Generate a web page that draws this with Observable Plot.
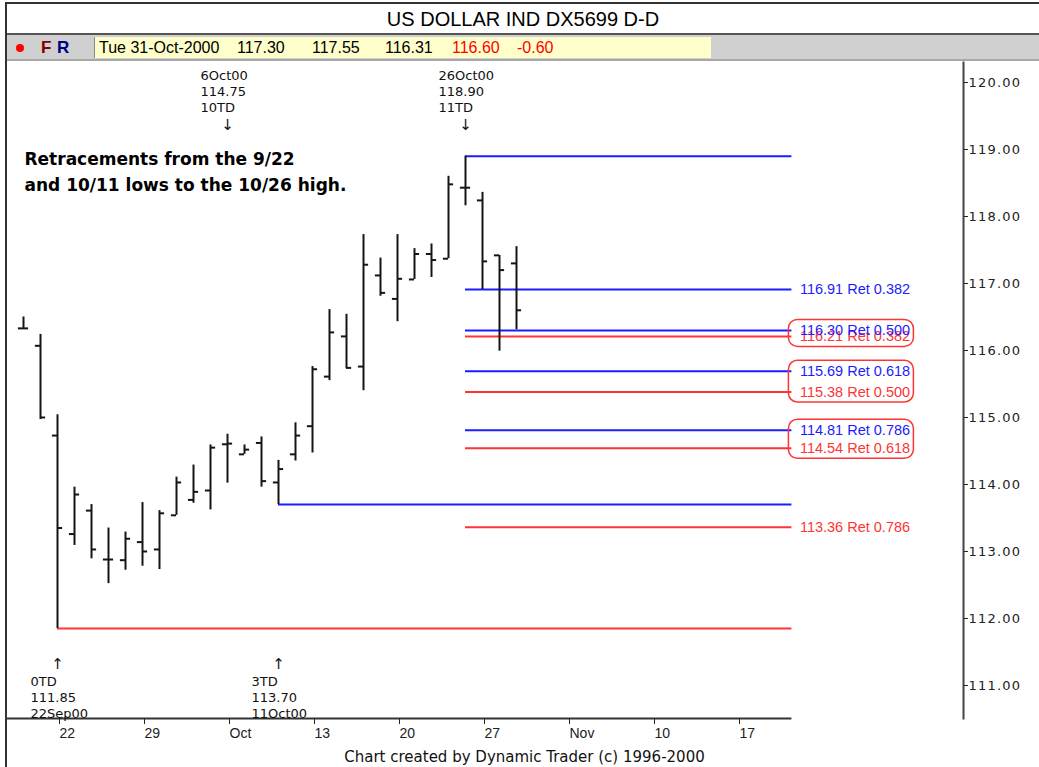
<!DOCTYPE html>
<html>
<head>
<meta charset="utf-8">
<script src="https://cdn.jsdelivr.net/npm/d3@7"></script>
<script src="https://cdn.jsdelivr.net/npm/@observablehq/plot@0.6"></script>
<style>
html,body{margin:0;padding:0;background:#fff;}
body{width:1039px;height:767px;position:relative;overflow:hidden;font-family:"Liberation Sans",Arial,sans-serif;}
#leftBorder{position:absolute;left:5px;top:2px;width:2px;height:765px;background:#333;}
#topBorder{position:absolute;left:5px;top:2px;width:1034px;height:2px;background:#333;}
#title{position:absolute;left:7px;top:4px;width:1032px;height:29px;line-height:31px;text-align:center;font-size:20px;color:#000;}
#titleLine{position:absolute;left:7px;top:33px;width:1032px;height:2px;background:#555;}
#info{position:absolute;left:7px;top:35px;width:1032px;height:24px;background:#d0d0d0;}
#infoLine{position:absolute;left:7px;top:59px;width:1032px;height:2px;background:#a8a8a8;}
#dot{position:absolute;left:16px;top:44px;width:8px;height:8px;border-radius:50%;background:#f00;}
.fr{position:absolute;top:37px;font:bold 17px "Liberation Sans",Arial,sans-serif;line-height:21px;}
#yellow{position:absolute;left:94px;top:37px;width:616px;height:21px;background:#ffffcc;border-left:1px solid #888;}
.it{position:absolute;top:37px;font-size:16px;line-height:21px;white-space:pre;}
#chart{position:absolute;left:0;top:62px;}
#caption{position:absolute;left:10px;top:746px;width:1029px;text-align:center;font:15px "DejaVu Sans",sans-serif;line-height:22px;color:#111;}
#chart g[aria-label="y-axis tick label"] text{letter-spacing:1.2px;}
</style>
</head>
<body>
<div id="topBorder"></div>
<div id="title"></div>
<div id="titleLine"></div>
<div id="info"></div>
<div id="infoLine"></div>
<div id="dot"></div>
<div class="fr" id="F" style="left:41px;color:#800000">F</div>
<div class="fr" id="R" style="left:57px;color:#000080">R</div>
<div id="yellow"></div>
<div id="infoText"></div>
<div id="chart"></div>
<div id="caption"></div>
<div id="leftBorder"></div>
<script>
// ---------- data ----------
const chartTitle = "US DOLLAR IND DX5699 D-D";
const captionText = "Chart created by Dynamic Trader (c) 1996-2000";
const lastDayText = "Tue 31-Oct-2000";

const dateLabels = ["20Sep00","21Sep00","22Sep00","25Sep00","26Sep00","27Sep00","28Sep00","29Sep00",
  "2Oct00","3Oct00","4Oct00","5Oct00","6Oct00","9Oct00","10Oct00","11Oct00","12Oct00","13Oct00",
  "16Oct00","17Oct00","18Oct00","19Oct00","20Oct00","23Oct00","24Oct00","25Oct00","26Oct00","27Oct00",
  "30Oct00","31Oct00"];
const opens  = [116.33,116.07,114.73,113.26,113.61,112.88,112.87,113.14,113.03,113.54,113.77,113.91,114.60,114.45,114.62,114.03,114.45,114.87,115.61,116.21,115.76,117.12,116.77,117.06,117.44,117.37,118.43,118.24,117.42,117.30];
const highs  = [116.50,116.24,115.04,113.96,113.70,113.35,113.29,113.73,113.61,114.11,114.29,114.59,114.75,114.59,114.71,114.36,114.92,115.76,116.61,116.54,117.73,117.38,117.73,117.52,117.59,118.60,118.90,118.36,117.42,117.55];
const lows   = [116.33,114.97,111.85,113.09,112.89,112.52,112.72,112.78,112.73,113.54,113.72,113.62,114.02,114.45,113.96,113.70,114.35,114.47,115.55,115.73,115.40,116.81,116.43,117.06,117.09,117.37,118.16,116.91,115.99,116.31];
const closes = [116.33,115.00,113.35,113.85,113.03,112.88,113.19,113.00,113.57,114.03,113.89,114.55,114.61,114.52,114.05,114.23,114.73,115.72,116.27,115.74,117.28,116.86,117.07,117.44,117.35,118.48,118.43,117.33,117.20,116.60];

const xTickIndex  = [2,7,12,17,22,27,32,37,42];
const xTickLabels = ["22","29","Oct","13","20","27","Nov","10","17"];
const yTicks = [111,112,113,114,115,116,117,118,119,120];

const pivotIndex = [2,12,15,26];
const pivotDate  = ["22Sep00","6Oct00","11Oct00","26Oct00"];
const pivotPrice = [111.85,114.75,113.70,118.90];
const pivotTD    = [0,10,3,11];
const pivotKind  = ["low","high","low","high"];

const retRatios  = [0.382,0.500,0.618,0.786];
const blueLevels = [116.91,116.30,115.69,114.81];   // from 10/11 low to 10/26 high
const redLevels  = [116.21,115.38,114.54,113.36];   // from 9/22 low to 10/26 high
const clusterBoxes = [[116.30,116.21],[115.69,115.38],[114.81,114.54]];

const noteText = "Retracements from the 9/22\nand 10/11 lows to the 10/26 high.";

// ---------- header / caption ----------
document.getElementById("title").textContent = chartTitle;
document.getElementById("caption").textContent = captionText;
const n = closes.length;
const chg = closes[n-1] - closes[n-2];
const infoItems = [
  {t: lastDayText, x: 99, c: "#000"},
  {t: opens[n-1].toFixed(2), x: 237, c: "#000"},
  {t: highs[n-1].toFixed(2), x: 312, c: "#000"},
  {t: lows[n-1].toFixed(2), x: 385, c: "#000"},
  {t: closes[n-1].toFixed(2), x: 452, c: "#f00"},
  {t: chg.toFixed(2), x: 517, c: "#f00"}
];
const infoDiv = document.getElementById("infoText");
infoItems.forEach(it => {
  const s = document.createElement("div");
  s.className = "it"; s.style.left = it.x + "px"; s.style.color = it.c; s.textContent = it.t;
  infoDiv.appendChild(s);
});

// ---------- chart ----------
const bars = dateLabels.map((d, i) => ({i, date: d, open: opens[i], high: highs[i], low: lows[i], close: closes[i]}));
const pivots = pivotIndex.map((p, k) => ({i: p, date: pivotDate[k], price: pivotPrice[k], td: pivotTD[k], kind: pivotKind[k]}));
const highPivots = pivots.filter(p => p.kind === "high");
const lowPivots = pivots.filter(p => p.kind === "low");
const topPivot = pivots[3];
const blueLow = pivots[2], redLow = pivots[0];

const blue = "#1c1cff", red = "#ff3434", ink = "#151515";
const xMin = -1, xMax = 55.294, lineEnd = 45.2;
const yMin = 110.507, yMax = 120.2985;

const blueData = blueLevels.map((v, k) => ({v, r: retRatios[k]}));
const redData = redLevels.map((v, k) => ({v, r: retRatios[k]}));
const labelText = d => `${d.v.toFixed(2)} Ret ${d.r.toFixed(3)}`;

const chart = Plot.plot({
  width: 1039, height: 684,
  marginLeft: 6, marginRight: 76, marginTop: 0, marginBottom: 28,
  x: {domain: [xMin, xMax]},
  y: {domain: [yMin, yMax]},
  style: {background: "transparent", color: "#222", fontFamily: "DejaVu Sans", fontSize: "13px", overflow: "visible"},
  marks: [
    // x axis baseline & ticks
    Plot.ruleY([yMin], {x1: xMin, x2: lineEnd, stroke: "#333", strokeWidth: 2}),
    Plot.axisX({ticks: xTickIndex, tickFormat: d => xTickLabels[xTickIndex.indexOf(d)], tickSize: 6, tickPadding: 4,
      textAnchor: "start", dx: 2, fontSize: 14, fontFamily: "Liberation Sans", label: null}),
    // y axis
    Plot.frame({anchor: "right", stroke: "#444", strokeWidth: 2}),
    Plot.axisY({anchor: "right", ticks: yTicks, tickFormat: d => d.toFixed(2), tickSize: 4, tickPadding: 1,
      fontSize: 13, fontFamily: "DejaVu Sans", label: null}),
    // swing lines
    Plot.ruleY([redLow], {y: "price", x1: "i", x2: lineEnd, stroke: red, strokeWidth: 2}),
    Plot.ruleY(redData, {y: "v", x1: topPivot.i, x2: lineEnd, stroke: red, strokeWidth: 2}),
    Plot.ruleY([blueLow, topPivot], {y: "price", x1: "i", x2: lineEnd, stroke: blue, strokeWidth: 2}),
    Plot.ruleY(blueData, {y: "v", x1: topPivot.i, x2: lineEnd, stroke: blue, strokeWidth: 2}),
    // OHLC bars
    Plot.ruleX(bars, {x: "i", y1: "low", y2: "high", stroke: ink, strokeWidth: 2}),
    Plot.ruleY(bars, {y: "open", x1: d => d.i - 0.3, x2: "i", stroke: ink, strokeWidth: 2}),
    Plot.ruleY(bars, {y: "close", x1: "i", x2: d => d.i + 0.3, stroke: ink, strokeWidth: 2}),
    // retracement labels
    Plot.text(redData, {x: lineEnd, y: "v", text: labelText, textAnchor: "start", dx: 8, fill: red, fontSize: 14.5, fontFamily: "Liberation Sans"}),
    Plot.text(blueData, {x: lineEnd, y: "v", text: labelText, textAnchor: "start", dx: 8, fill: blue, fontSize: 14.5, fontFamily: "Liberation Sans"}),
    Plot.rect(clusterBoxes, {x1: lineEnd, x2: lineEnd, y1: d => d[1], y2: d => d[0],
      insetLeft: -3, insetRight: -122, insetTop: -10.5, insetBottom: -10.5, rx: 9, ry: 9,
      stroke: red, fill: "none", strokeWidth: 1.5}),
    // pivot annotations
    Plot.text(highPivots, {x: "i", frameAnchor: "top", text: d => `${d.date}\n${d.price.toFixed(2)}\n${d.td}TD`,
      textAnchor: "start", lineAnchor: "top", dx: -27, dy: 6, lineHeight: 1.23, fontSize: 13, fill: "#111"}),
    Plot.text(highPivots, {x: "i", frameAnchor: "top", text: () => "↓", dy: 57, fontSize: 15, fill: "#111"}),
    Plot.text(lowPivots, {x: "i", frameAnchor: "top", text: d => `${d.td}TD\n${d.price.toFixed(2)}\n${d.date}`,
      textAnchor: "start", lineAnchor: "top", dx: -27, dy: 612, lineHeight: 1.23, fontSize: 13, fill: "#111"}),
    Plot.text(lowPivots, {x: "i", frameAnchor: "top", text: () => "↑", dy: 596, fontSize: 15, fill: "#111"}),
    // note
    Plot.text([noteText], {frameAnchor: "top-left", dx: 18, dy: 84, lineAnchor: "top", textAnchor: "start",
      fontWeight: "bold", fontSize: 17, lineHeight: 1.53, fontFamily: "DejaVu Sans", fill: "#000"})
  ]
});
document.getElementById("chart").appendChild(chart);
</script>
</body>
</html>
